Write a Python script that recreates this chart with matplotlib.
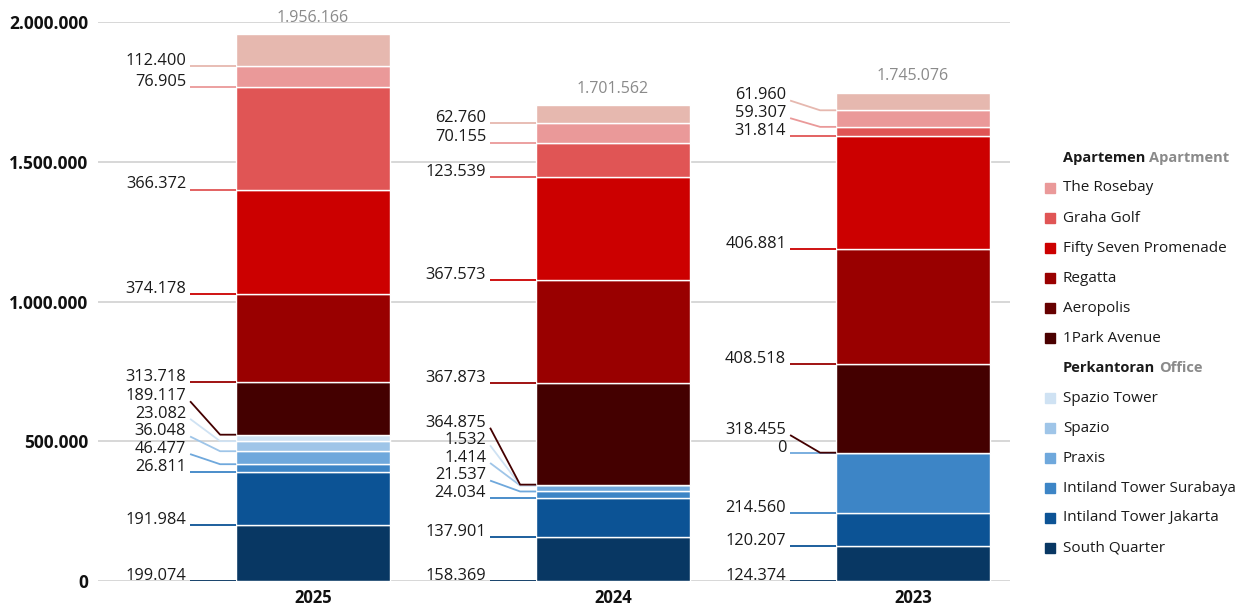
import matplotlib.pyplot as plt
from matplotlib.patches import Rectangle

plt.rcParams['font.family'] = ['Open Sans', 'DejaVu Sans']

years = ['2025', '2024', '2023']

# stacked bottom -> top, values in the picture (None = no segment)
series_names = ['South Quarter', 'Intiland Tower Jakarta', 'Intiland Tower Surabaya',
                'Praxis', 'Spazio', 'Spazio Tower',
                '1Park Avenue', 'Aeropolis', 'Regatta',
                'Fifty Seven Promenade', 'Graha Golf', 'The Rosebay']
south_quarter = [199074, 158369, 124374]
intiland_jakarta = [191984, 137901, 120207]
intiland_surabaya = [26811, 24034, 214560]
praxis = [46477, 21537, 0]
spazio = [36048, 1414, None]
spazio_tower = [23082, 1532, None]
park_avenue = [189117, 364875, 318455]
aeropolis = [313718, 367873, 408518]
regatta = [374178, 367573, 406881]
fifty_seven = [366372, 123539, 31814]
graha_golf = [76905, 70155, 59307]
rosebay = [112400, 62760, 61960]
totals = [1956166, 1701562, 1745076]

series = [south_quarter, intiland_jakarta, intiland_surabaya, praxis, spazio, spazio_tower,
          park_avenue, aeropolis, regatta, fifty_seven, graha_golf, rosebay]

# colours as they appear in the bars
bar_colors = ['#083763', '#0c5395', '#3d85c6', '#6fa8dc', '#9fc5e8', '#cfe2f3',
              '#440000', '#990000', '#cc0000', '#e05555', '#ea9999', '#e6b8af']
# colours as they appear in the legend
legend_colors = ['#083763', '#0c5395', '#3d85c6', '#6fa8dc', '#9fc5e8', '#cfe2f3',
                 '#4a0000', '#660000', '#990000', '#cc0000', '#e05555', '#ea9999']


def fmt(v):
    return f"{v:,}".replace(',', '.')


fig = plt.figure(figsize=(12.47, 6.10), dpi=100)
ax = fig.add_axes([98 / 1247, 29 / 610, 912 / 1247, 559 / 610])

width = 0.513
gap = 63000
for i, year in enumerate(years):
    bottom = 0
    prev_label = None
    left = i - width / 2
    for name, vals, col in zip(series_names, series, bar_colors):
        v = vals[i]
        if v is None:
            continue
        ax.bar(i, v, width, bottom=bottom, color=col, edgecolor='white', linewidth=1, zorder=2)
        # label position, pushed up when crowded
        ly = bottom if prev_label is None else max(bottom, prev_label + gap)
        prev_label = ly
        x0 = i - 0.41
        xk = i - 0.31
        ax.plot([x0, xk, left], [ly, bottom, bottom], color=col, lw=1.3,
                solid_capstyle='butt', zorder=3)
        ax.text(i - 0.423, ly + 4000, fmt(v), ha='right', va='baseline',
                fontsize=11.8, color='#1a1a1a')
        bottom += v
    ax.annotate(fmt(totals[i]), (i, bottom), xytext=(0, 9), textcoords='offset points',
                ha='center', va='baseline', fontsize=11.5, color='#8a8a8a')

for yv in [0, 500000, 1000000, 1500000, 2000000]:
    ax.axhline(yv, color='#d4d4d4', lw=1.3, zorder=0)

ax.set_xlim(-0.717, 2.323)
ax.set_ylim(0, 2000000)
ax.set_xticks(range(len(years)))
ax.set_xticklabels(years, fontweight='bold', fontsize=12, color='#111111')
ax.set_yticks([0, 500000, 1000000, 1500000, 2000000])
ax.set_yticklabels([fmt(t) for t in [0, 500000, 1000000, 1500000, 2000000]],
                   fontweight='bold', fontsize=12.5, color='#111111')
ax.tick_params(length=0)
ax.tick_params(axis='y', pad=7)
ax.tick_params(axis='x', pad=6)
for s in ax.spines.values():
    s.set_visible(False)

# legend drawn by hand: headers + swatches
W, H = 1247, 610


def fig_y(py):
    return 1 - py / H


def header(py, word_id, word_en):
    t = fig.text(1063 / W, fig_y(py), word_id, fontsize=10.5, fontweight='bold',
                 color='#1a1a1a', va='center', ha='left')
    fig.canvas.draw()
    bb = t.get_window_extent()
    fig.text(bb.x1 / W + 4 / W, fig_y(py), word_en, fontsize=10.5, fontweight='bold',
             color='#8a8a8a', va='center', ha='left')


header(158, 'Apartemen', 'Apartment')
header(368, 'Perkantoran', 'Office')

apt_rows = list(range(11, 5, -1))
off_rows = list(range(5, -1, -1))
for k, idx in enumerate(apt_rows):
    py = 188 + 30 * k
    fig.patches.append(Rectangle((1045 / W, fig_y(py + 5)), 10 / W, 10 / H,
                                 transform=fig.transFigure, color=legend_colors[idx]))
    fig.text(1063 / W, fig_y(py), series_names[idx], fontsize=11, color='#1a1a1a',
             va='center', ha='left')
for k, idx in enumerate(off_rows):
    py = 398 + 30 * k
    fig.patches.append(Rectangle((1045 / W, fig_y(py + 5)), 10 / W, 10 / H,
                                 transform=fig.transFigure, color=legend_colors[idx]))
    fig.text(1063 / W, fig_y(py), series_names[idx], fontsize=11, color='#1a1a1a',
             va='center', ha='left')

fig.savefig('out.png', dpi=100)
